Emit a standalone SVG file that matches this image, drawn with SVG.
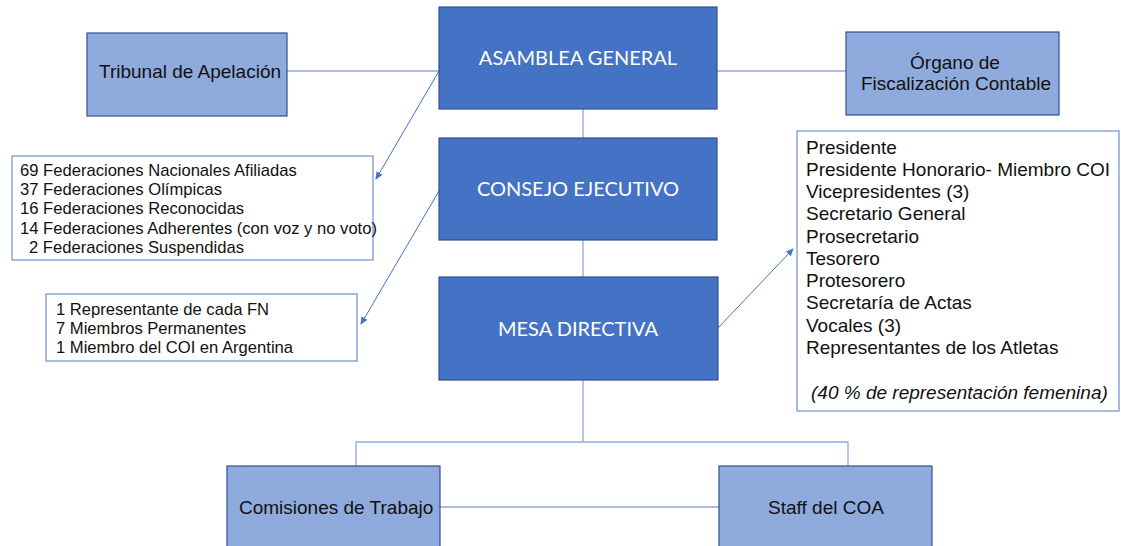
<svg xmlns="http://www.w3.org/2000/svg" width="1121" height="546" viewBox="0 0 1121 546">
  <style>
    .dark { fill: #4472C4; stroke: #2F528F; stroke-width: 1.2; }
    .light { fill: #8FAADC; stroke: #2F528F; stroke-width: 1.2; }
    .list { fill: #FFFFFF; stroke: #6F8FCF; stroke-width: 1.2; }
    .tw { font-family: Lato, "Open Sans", sans-serif; font-size: 20px; fill: #FFFFFF; text-anchor: middle; }
    .tb { font-family: "Liberation Sans", Arial, sans-serif; font-size: 19px; fill: #111111; }
    .ts { font-family: "Liberation Sans", Arial, sans-serif; font-size: 16.6px; fill: #111111; }
    .mid { text-anchor: middle; }
    .ln { stroke: #8FAADC; stroke-width: 1.3; fill: none; }
    .ar { stroke: #4472C4; stroke-width: 1; fill: none; marker-end: url(#ah); }
  </style>
  <defs>
    <marker id="ah" markerWidth="8" markerHeight="8" refX="7" refY="4" orient="auto" markerUnits="userSpaceOnUse">
      <path d="M0,0.5 L8,4 L0,7.5 Z" fill="#4472C4"/>
    </marker>
  </defs>
  <rect width="1121" height="546" fill="#FFFFFF"/>

  <g id="connectors">
    <line class="ln" x1="287" y1="71" x2="439" y2="71"/>
    <line class="ln" x1="717" y1="71" x2="846" y2="71"/>
    <line class="ln" x1="583" y1="109" x2="583" y2="138"/>
    <line class="ln" x1="583" y1="240" x2="583" y2="277"/>
    <polyline class="ln" points="583,380 583,442"/>
    <polyline class="ln" points="356,466 356,442 848,442 848,466"/>
    <line class="ln" x1="440" y1="507" x2="719" y2="507"/>
    <line class="ar" x1="439" y1="71" x2="376" y2="179"/>
    <line class="ar" x1="439" y1="191" x2="361" y2="324"/>
    <line class="ar" x1="718" y1="328" x2="793" y2="249"/>
  </g>

  <g id="tribunal">
    <rect class="light" x="87" y="33" width="200" height="83"/>
    <text class="tb mid" x="190" y="78">Tribunal de Apelación</text>
  </g>

  <g id="asamblea">
    <rect class="dark" x="439" y="7" width="278" height="102"/>
    <text class="tw" x="578" y="65">ASAMBLEA GENERAL</text>
  </g>

  <g id="organo">
    <rect class="light" x="846" y="32" width="213" height="83"/>
    <text class="tb mid" x="955" y="69">Órgano de</text>
    <text class="tb mid" x="956" y="90">Fiscalización Contable</text>
  </g>

  <g id="consejo">
    <rect class="dark" x="439" y="138" width="278" height="102"/>
    <text class="tw" x="578" y="196">CONSEJO EJECUTIVO</text>
  </g>

  <g id="mesa">
    <rect class="dark" x="439" y="277" width="279" height="103"/>
    <text class="tw" x="578" y="336">MESA DIRECTIVA</text>
  </g>

  <g id="federaciones">
    <rect class="list" x="12" y="156" width="361" height="104"/>
    <text class="ts" x="20" y="176">69 Federaciones Nacionales Afiliadas</text>
    <text class="ts" x="20" y="195">37 Federaciones Olímpicas</text>
    <text class="ts" x="20" y="214">16 Federaciones Reconocidas</text>
    <text class="ts" x="20" y="234">14 Federaciones Adherentes (con voz y no voto)</text>
    <text class="ts" x="29" y="253">2 Federaciones Suspendidas</text>
  </g>

  <g id="representantes">
    <rect class="list" x="46" y="294" width="311" height="67"/>
    <text class="ts" x="56" y="315">1 Representante de cada FN</text>
    <text class="ts" x="56" y="334">7 Miembros Permanentes</text>
    <text class="ts" x="56" y="353">1 Miembro del COI en Argentina</text>
  </g>

  <g id="mesa-lista">
    <rect class="list" x="797" y="131" width="322" height="280"/>
    <text class="tb" x="806" y="154">Presidente</text>
    <text class="tb" x="806" y="176">Presidente Honorario- Miembro COI</text>
    <text class="tb" x="806" y="198">Vicepresidentes (3)</text>
    <text class="tb" x="806" y="220">Secretario General</text>
    <text class="tb" x="806" y="243">Prosecretario</text>
    <text class="tb" x="806" y="265">Tesorero</text>
    <text class="tb" x="806" y="287">Protesorero</text>
    <text class="tb" x="806" y="309">Secretaría de Actas</text>
    <text class="tb" x="806" y="332">Vocales (3)</text>
    <text class="tb" x="806" y="354">Representantes de los Atletas</text>
    <text class="tb" x="811" y="399" font-style="italic">(40 % de representación femenina)</text>
  </g>

  <g id="comisiones">
    <rect class="light" x="227" y="466" width="213" height="90"/>
    <text class="tb" x="239" y="514">Comisiones de Trabajo</text>
  </g>

  <g id="staff">
    <rect class="light" x="719" y="466" width="213" height="90"/>
    <text class="tb mid" x="826" y="514">Staff del COA</text>
  </g>
</svg>
